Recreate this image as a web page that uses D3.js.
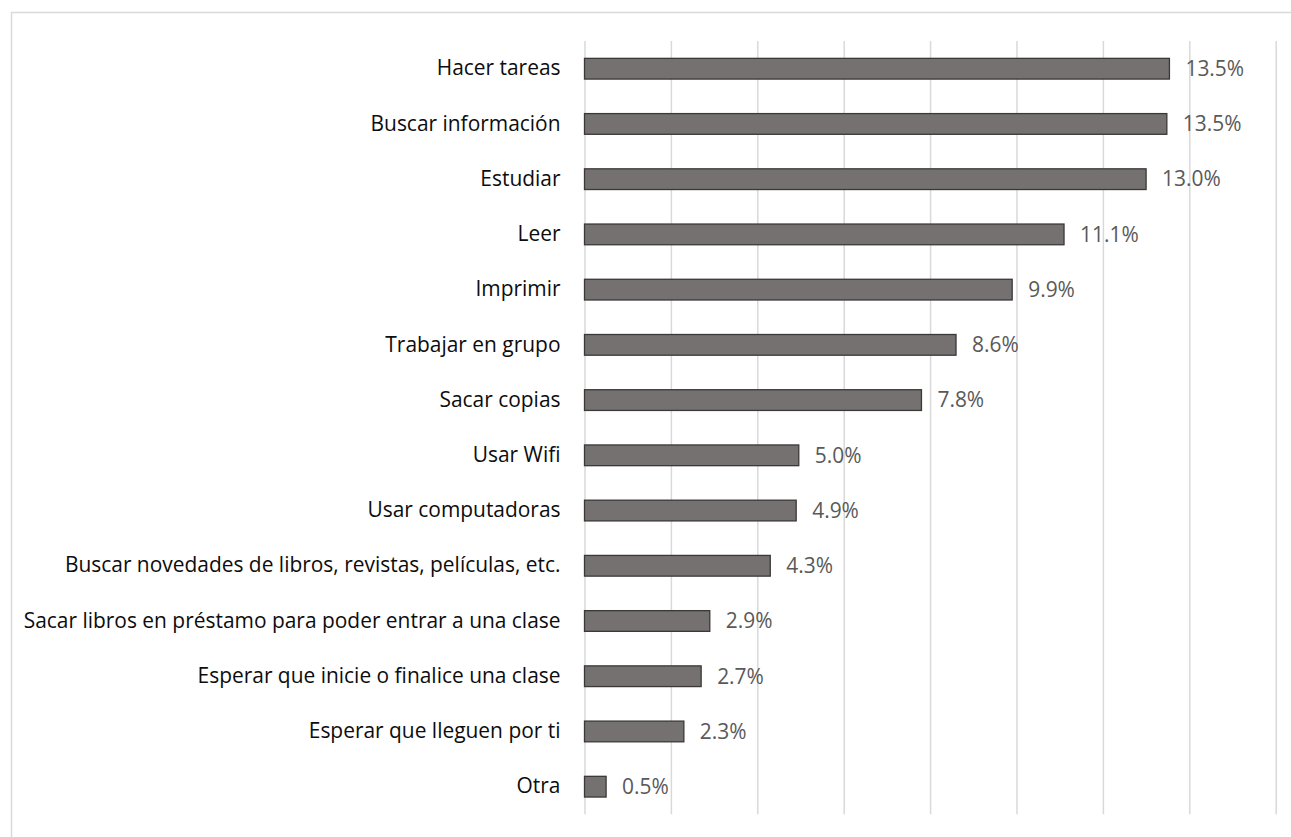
<!DOCTYPE html>
<html>
<head>
<meta charset="utf-8">
<script src="https://cdn.jsdelivr.net/npm/d3@7"></script>
<style>
  html, body { margin: 0; padding: 0; background: #fff; }
  svg { display: block; }
  text { font-variant-ligatures: none; }
</style>
</head>
<body>
<svg id="chart" width="1291" height="837"></svg>
<script>
const categories = [
  "Hacer tareas",
  "Buscar información",
  "Estudiar",
  "Leer",
  "Imprimir",
  "Trabajar en grupo",
  "Sacar copias",
  "Usar Wifi",
  "Usar computadoras",
  "Buscar novedades de libros, revistas, películas, etc.",
  "Sacar libros en préstamo para poder entrar a una clase",
  "Esperar que inicie o finalice una clase",
  "Esperar que lleguen por ti",
  "Otra"
];
const values = [13.54, 13.48, 13.0, 11.1, 9.9, 8.6, 7.8, 4.96, 4.9, 4.3, 2.9, 2.7, 2.3, 0.5];
const xTicks = [0, 2, 4, 6, 8, 10, 12, 14, 16];

const svg = d3.select("#chart");
const W = 1291, H = 837;
const FONT = "'Open Sans', sans-serif";

// fit font size so the longest label spans like the reference (~537px)
const probe = svg.append("text").attr("font-family", FONT).attr("font-size", 20)
  .text("Sacar libros en préstamo para poder entrar a una clase");
const probeW = probe.node().getComputedTextLength();
probe.remove();
const fontSize = Math.max(16, Math.min(22, 20 * 537 / probeW));

// outer frame
svg.append("rect")
  .attr("x", 11.5).attr("y", 12.5)
  .attr("width", W + 10).attr("height", H + 10)
  .attr("fill", "none").attr("stroke", "#d9d9d9").attr("stroke-width", 1.5);

const plotLeft = 584.5, plotRight = 1275.7, plotTop = 41.1, plotBottom = 814.3;

const x = d3.scaleLinear().domain([0, 16]).range([plotLeft, plotRight]);
const y = d3.scaleBand().domain(categories).range([plotTop, plotBottom]).paddingInner(0.625).paddingOuter(0.3125);

// gridlines
const grid = d3.axisBottom(x).tickValues(xTicks).tickSize(-(plotBottom - plotTop)).tickFormat("");
const g = svg.append("g").attr("transform", `translate(0,${plotBottom})`).call(grid);
g.select(".domain").remove();
g.selectAll(".tick line").attr("stroke", "#d9d9d9").attr("stroke-width", 1.5);

// bars
svg.append("g").selectAll("rect")
  .data(values)
  .join("rect")
  .attr("x", x(0))
  .attr("y", (d, i) => y(categories[i]))
  .attr("width", d => x(d) - x(0))
  .attr("height", y.bandwidth())
  .attr("fill", "#767171")
  .attr("stroke", "#3b3838")
  .attr("stroke-width", 1.3);

// category labels
const yAxis = d3.axisLeft(y).tickSize(0).tickPadding(24);
const ya = svg.append("g").attr("transform", `translate(${x(0)},0)`).call(yAxis);
ya.select(".domain").remove();
ya.selectAll("text")
  .attr("font-family", FONT)
  .attr("font-size", fontSize)
  .attr("fill", "#0d0d0d");

// value labels
svg.append("g").selectAll("text")
  .data(values)
  .join("text")
  .attr("x", d => x(d) + 16)
  .attr("y", (d, i) => y(categories[i]) + y.bandwidth() / 2)
  .attr("dy", "0.35em")
  .attr("font-family", FONT)
  .attr("font-size", fontSize)
  .attr("fill", "#595959")
  .text(d => d.toFixed(1) + "%");
</script>
</body>
</html>
